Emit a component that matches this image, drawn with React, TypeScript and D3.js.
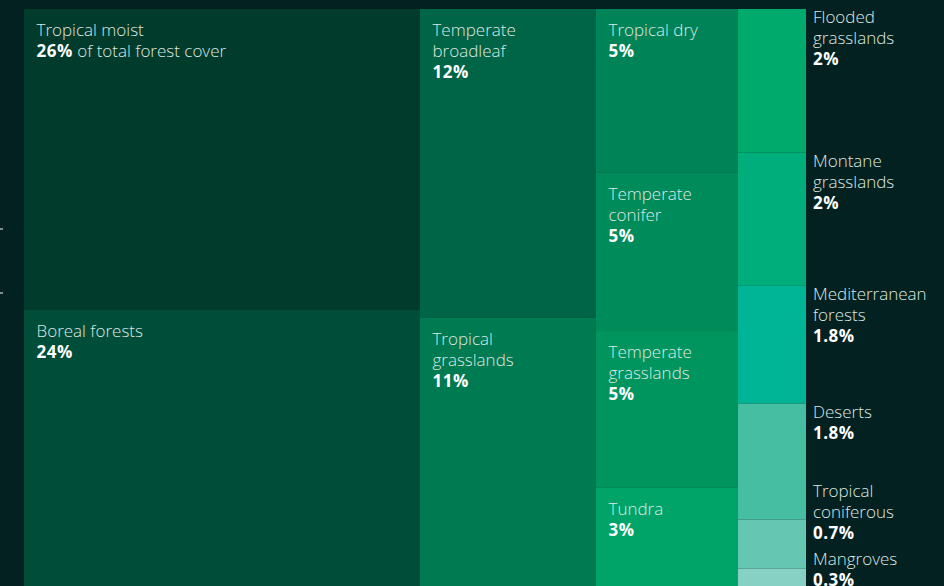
import React from "react";
import * as d3 from "d3";

const biomes = [
  "Tropical moist", "Boreal forests",
  "Temperate broadleaf", "Tropical grasslands",
  "Tropical dry", "Temperate conifer", "Temperate grasslands", "Tundra",
  "Flooded grasslands", "Montane grasslands", "Mediterranean forests", "Deserts", "Tropical coniferous", "Mangroves",
];
const shares = [26.33, 24.31, 12.01, 10.5, 5.14, 4.96, 4.92, 3.14, 2.16, 2.0, 1.77, 1.74, 0.74, 0.29];
const shareLabels = ["26%", "24%", "12%", "11%", "5%", "5%", "5%", "3%", "2%", "2%", "1.8%", "1.8%", "0.7%", "0.3%"];
const columnOf = [0, 0, 1, 1, 2, 2, 2, 2, 3, 3, 3, 3, 3, 3];
const nameLines = [
  ["Tropical moist"], ["Boreal forests"],
  ["Temperate", "broadleaf"], ["Tropical", "grasslands"],
  ["Tropical dry"], ["Temperate", "conifer"], ["Temperate", "grasslands"], ["Tundra"],
  ["Flooded", "grasslands"], ["Montane", "grasslands"], ["Mediterranean", "forests"], ["Deserts"], ["Tropical", "coniferous"], ["Mangroves"],
];
const colors = [
  "#003b2c", "#004e3a",
  "#006446", "#007a50",
  "#008457", "#008b5b", "#00955f", "#00a468",
  "#00a96c", "#00ae7b", "#00b596", "#46bea1", "#65c6b1", "#86d1c4",
];

const W = 944, H = 586;
const X0 = 24, Y0 = 9, TW = 782, TH = 579;
const LINE = 21;
const FONT = "'Open Sans', sans-serif";

export default function App() {
  const leaves = biomes.map((n, i) => ({ name: n, value: shares[i], idx: i }));
  const cols = d3.groups(leaves, (d) => columnOf[d.idx]).map(([k, ch]) => ({ name: "c" + k, children: ch }));
  const root = d3
    .hierarchy({ name: "root", children: cols } as any)
    .sum((d: any) => (d.children ? 0 : d.value));
  d3.treemap().tile(d3.treemapSliceDice).size([TW, TH]).round(false)(root as any);
  const nodes = (root.leaves() as any[]);

  // outside labels for the last column, resolving overlaps bottom-up
  const outside = nodes.filter((n) => columnOf[n.data.idx] === 3);
  const outY: Record<number, number> = {};
  let limit = H;
  for (let i = outside.length - 1; i >= 0; i--) {
    const n = outside[i];
    const lines = nameLines[n.data.idx].length + 1;
    let first = Y0 + n.y0 + 14;
    const last = first + (lines - 1) * LINE;
    if (last > limit) first = limit - (lines - 1) * LINE;
    outY[n.data.idx] = first;
    limit = first - 26;
  }

  return (
    <svg width={W} height={H} style={{ position: "absolute", left: 0, top: 0, background: "#022120" }}>
      <rect width={W} height={H} fill="#022120" />
      <rect x={0} y={228} width={3} height={2} fill="#7f8f8a" />
      <rect x={0} y={292} width={3} height={2} fill="#7f8f8a" />
      {nodes.map((n) => {
        const i = n.data.idx;
        const x = X0 + n.x0, y = Y0 + n.y0;
        return (
          <rect key={"r" + i} x={x} y={y} width={n.x1 - n.x0} height={n.y1 - n.y0} fill={colors[i]} />
        );
      })}
      {nodes.map((n) => {
        const i = n.data.idx;
        const inside = columnOf[i] !== 3;
        const x = inside ? X0 + n.x0 + 12.5 : X0 + n.x1 + 7;
        const y = inside ? Y0 + n.y0 + 27 : outY[i];
        const lines = nameLines[i];
        return (
          <text key={"t" + i} x={x} y={y} fontFamily={FONT} fontSize={17} fontWeight={300} fill="#dde8e3">
            {lines.map((l, k) => (
              <tspan key={k} x={x} y={y + k * LINE}>{l}</tspan>
            ))}
            <tspan x={x} y={y + lines.length * LINE} fontWeight={700} fill="#ffffff" letterSpacing={0.5}>{shareLabels[i]}</tspan>
            {i === 0 ? <tspan fill="#dde8e3"> of total forest cover</tspan> : null}
          </text>
        );
      })}
    </svg>
  );
}
